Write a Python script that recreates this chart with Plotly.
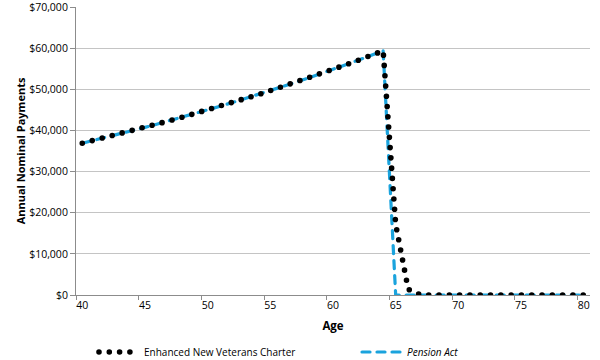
import plotly.graph_objects as go

ages = list(range(40, 81))
enhanced_nvc = [36900, 37638, 38391, 39159, 39942, 40741, 41556, 42387, 43235, 44099,
                44981, 45881, 46799, 47735, 48689, 49663, 50656, 51670, 52703, 53757,
                54832, 55929, 57047, 58188, 59352,
                17200, 1400, 0, 0, 0, 0, 0, 0, 0, 0, 0, 0, 0, 0, 0, 0]
pension_act = [36900, 37638, 38391, 39159, 39942, 40741, 41556, 42387, 43235, 44099,
               44981, 45881, 46799, 47735, 48689, 49663, 50656, 51670, 52703, 53757,
               54832, 55929, 57047, 58188, 59352,
               0, 0, 0, 0, 0, 0, 0, 0, 0, 0, 0, 0, 0, 0, 0, 0]
x_ticks = [40, 45, 50, 55, 60, 65, 70, 75, 80]
y_ticks = [0, 10000, 20000, 30000, 40000, 50000, 60000, 70000]
y_grid = [10000, 20000, 30000, 40000, 50000, 60000]

FONT = "Open Sans"
AXIS = "#8C8C8C"
fig = go.Figure()
fig.add_trace(go.Scatter(
    x=ages, y=pension_act, mode="lines", name="<i>Pension Act</i>", legend="legend2",
    line=dict(color="#1AA3DD", width=3.2, dash="8px,7px")))
fig.add_trace(go.Scatter(
    x=ages, y=enhanced_nvc, mode="lines", name="Enhanced New Veterans Charter", legend="legend",
    line=dict(color="#000000", width=5.6, dash="0px,10.3px")))

leg_common = dict(orientation="h", xref="container", yref="container", xanchor="left",
                  yanchor="middle", font=dict(size=10), itemwidth=40,
                  bgcolor="rgba(0,0,0,0)", y=1 - 352 / 360)
fig.update_layout(
    width=600, height=360, margin=dict(l=76, r=10, t=7, b=65, autoexpand=False),
    paper_bgcolor="white", plot_bgcolor="white",
    font=dict(family=FONT, size=10, color="#000"),
    showlegend=True,
    legend=dict(x=94 / 600, **leg_common),
    legend2=dict(x=357 / 600, **leg_common),
)
fig.update_xaxes(range=[39.5, 80.5], tickmode="array", tickvals=x_ticks,
                 ticktext=[str(v) for v in x_ticks], ticks="",
                 showgrid=False, showline=True, linecolor=AXIS, linewidth=1,
                 minor=dict(tickmode="array", tickvals=[39.5 + 5 * k for k in range(9)],
                            ticks="outside", ticklen=4, tickcolor=AXIS, showgrid=False),
                 tickfont=dict(size=10.5), ticklabeloverflow="allow",
                 title=dict(text="<b>Age</b>", font=dict(size=11.5), standoff=11),
                 zeroline=False)
fig.update_yaxes(range=[0, 70000], tickmode="array", tickvals=y_ticks,
                 ticktext=["$" + format(v, ",") for v in y_ticks],
                 ticks="outside", ticklen=5, tickcolor=AXIS,
                 showgrid=False,
                 minor=dict(tickmode="array", tickvals=y_grid, ticks="",
                            showgrid=True, gridcolor="#C4C4C4", gridwidth=1),
                 showline=True, linecolor=AXIS, linewidth=1,
                 tickfont=dict(size=10.5), ticklabeloverflow="allow",
                 title=dict(text="<b>Annual Nominal Payments</b>", font=dict(size=11), standoff=1),
                 zeroline=False)

post = ("var s=document.createElement('style');"
        "s.innerHTML='html,body{margin:0;padding:0;overflow:hidden;} path.js-line{stroke-linecap:round !important;}';"
        "document.head.appendChild(s);")
fig.write_html("out.html", post_script=post, config={"displayModeBar": False})
